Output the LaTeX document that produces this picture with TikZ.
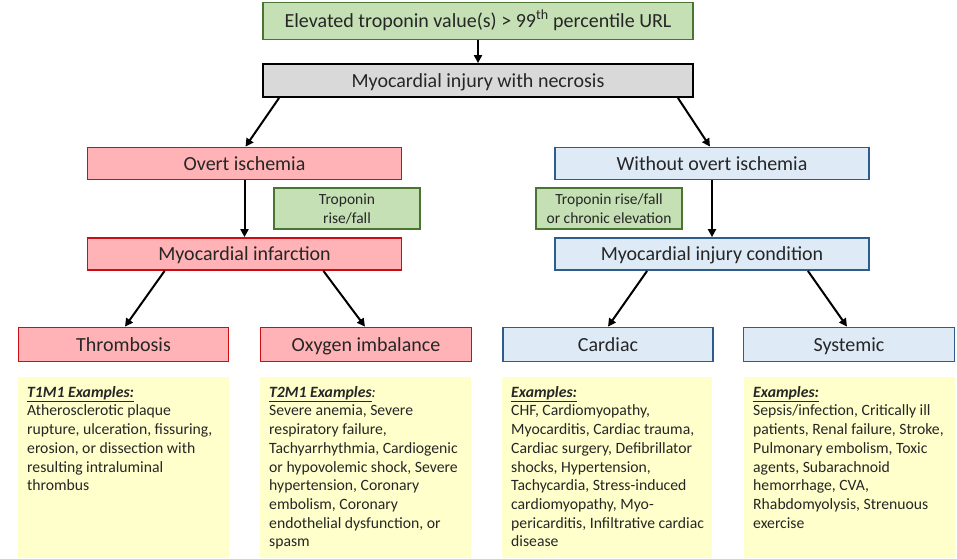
\documentclass[tikz,border=0pt]{standalone}
\usepackage{fontspec}
\setmainfont{Carlito}
\usetikzlibrary{calc,arrows.meta}
\definecolor{gfill}{HTML}{C5E0B4}
\definecolor{gdraw}{HTML}{4A7530}
\definecolor{rfill}{HTML}{FFB3B6}
\definecolor{rdraw}{HTML}{CC0E14}
\definecolor{bfill}{HTML}{DEEBF7}
\definecolor{bdraw}{HTML}{2E5D8C}
\definecolor{kfill}{HTML}{D9D9D9}
\definecolor{yfill}{HTML}{FFFFCC}
\definecolor{txt}{HTML}{262626}
\begin{document}
\begin{tikzpicture}[x=1pt,y=-1pt,
  base/.style={draw, line width=1.8pt, inner sep=0pt, text=txt, text height=15pt, text depth=2pt,
    font=\fontsize{20}{24}\selectfont},
  gbox/.style={base, draw=gdraw, fill=gfill},
  kbox/.style={base, draw=black, fill=kfill},
  rbox/.style={base, draw=rdraw, fill=rfill, minimum height=32pt},
  bbox/.style={base, draw=bdraw, fill=bfill, minimum height=32pt},
  tbox/.style={draw=gdraw, fill=gfill, line width=1.8pt, inner sep=0pt, text=txt, align=center,
    minimum width=146pt, minimum height=41pt, font=\fontsize{15.5}{19}\selectfont},
  ybox/.style={fill=yfill, inner sep=0pt, anchor=north west, text=txt, font=\fontsize{15.7}{18.7}\selectfont},
  arr/.style={-{Triangle[length=8pt,width=8pt]}, line width=2pt, black}
]
\useasboundingbox (0,0) rectangle (957,558);

\node[gbox, minimum width=430pt, minimum height=37pt] (top) at (478,21) {Elevated troponin value(s) > 99\textsuperscript{th} percentile URL};
\node[kbox, minimum width=430pt, minimum height=33pt] (inj) at (478,80.5) {Myocardial injury with necrosis};

\node[rbox, minimum width=314pt] (overt) at (244.5,163.5) {Overt ischemia};
\node[bbox, minimum width=314pt] (wo) at (712,163.5) {Without overt ischemia};

\node[tbox] (tr1) at (347,208.5) {Troponin\\rise/fall};
\node[tbox] (tr2) at (609,208.5) {Troponin rise/fall\\or chronic elevation};

\node[rbox, minimum width=314pt] (mi) at (244.5,254) {Myocardial infarction};
\node[bbox, minimum width=314pt] (mic) at (712,254) {Myocardial injury condition};

\node[rbox, minimum width=210pt, minimum height=34pt] (thr) at (123.5,344.5) {Thrombosis};
\node[rbox, minimum width=211pt, minimum height=34pt] (oxy) at (366,344.5) {Oxygen imbalance};
\node[bbox, minimum width=210pt, minimum height=34pt] (car) at (608,344.5) {Cardiac};
\node[bbox, minimum width=211pt, minimum height=34pt] (sys) at (849,344.5) {Systemic};

\node[ybox] (y1) at (18,377) {\hspace{9pt}\parbox[t][181pt][t]{202pt}{\vspace{9pt}\raggedright
\textbf{\textit{\underline{T1M1 Examples:}}}\\
Atherosclerotic plaque\\ rupture, ulceration, fissuring,\\ erosion, or dissection with\\ resulting intraluminal\\ thrombus}};
\node[ybox] (y2) at (260,377) {\hspace{9pt}\parbox[t][181pt][t]{202pt}{\vspace{9pt}\raggedright
\textbf{\textit{\underline{T2M1 Examples}}}\textit{:}\\
Severe anemia, Severe\\ respiratory failure,\\ Tachyarrhythmia, Cardiogenic\\ or hypovolemic shock, Severe\\ hypertension, Coronary\\ embolism, Coronary\\ endothelial dysfunction, or\\ spasm}};
\node[ybox] (y3) at (502,377) {\hspace{9pt}\parbox[t][181pt][t]{201pt}{\vspace{9pt}\raggedright
\textbf{\textit{\underline{Examples:}}}\\
CHF, Cardiomyopathy,\\ Myocarditis, Cardiac trauma,\\ Cardiac surgery, Defibrillator\\ shocks, Hypertension,\\ Tachycardia, Stress-induced\\ cardiomyopathy, Myo-\\ pericarditis, Infiltrative cardiac\\ disease}};
\node[ybox] (y4) at (744,377) {\hspace{9pt}\parbox[t][181pt][t]{202pt}{\vspace{9pt}\raggedright
\textbf{\textit{\underline{Examples:}}}\\
Sepsis/infection, Critically ill\\ patients, Renal failure, Stroke,\\ Pulmonary embolism, Toxic\\ agents, Subarachnoid\\ hemorrhage, CVA,\\ Rhabdomyolysis, Strenuous\\ exercise}};

\draw[arr] (top.south) -- (inj.north);
\draw[arr] ($(inj.south west)+(17,0)$) -- ($(overt.north)+(1,0)$);
\draw[arr] ($(inj.south east)+(-16,0)$) -- ($(wo.north)+(-2,0)$);
\draw[arr] (overt.south) -- (mi.north);
\draw[arr] (wo.south) -- (mic.north);
\draw[arr] ($(mi.south west)+(78,0)$) -- ($(thr.north)+(1.5,0)$);
\draw[arr] ($(mi.south east)+(-79,0)$) -- ($(oxy.north)+(-1,0)$);
\draw[arr] ($(mic.south west)+(93,0)$) -- ($(car.north)+(0,0)$);
\draw[arr] ($(mic.south east)+(-62,0)$) -- ($(sys.north)+(-2,0)$);
\end{tikzpicture}
\end{document}
